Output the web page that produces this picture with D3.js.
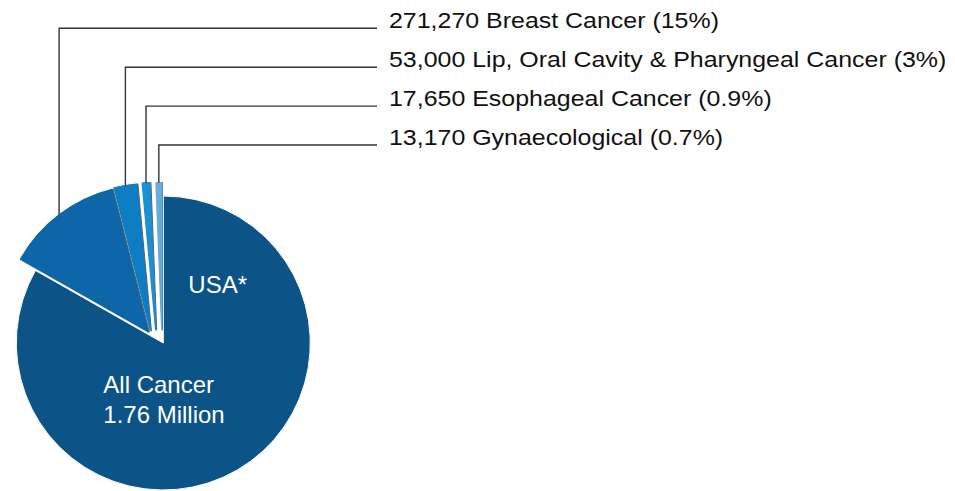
<!DOCTYPE html>
<html>
<head>
<meta charset="utf-8">
<script src="https://cdn.jsdelivr.net/npm/d3@7"></script>
<style>
  html, body { margin: 0; padding: 0; background: #fff; }
  svg { display: block; }
  text { font-family: "Liberation Sans", Arial, Helvetica, sans-serif; }
</style>
</head>
<body>
<svg id="chart" width="955" height="491"></svg>
<script>
// ---- data ----
const categories = ["All Cancer", "Breast Cancer", "Lip, Oral Cavity & Pharyngeal Cancer", "Esophageal Cancer", "Gynaecological"];
const values = [1760000, 271270, 53000, 17650, 13170];
const pctLabels = ["", "15%", "3%", "0.9%", "0.7%"];
const mainLabelLines = ["All Cancer", "1.76 Million"];
const regionLabel = "USA*";

// ---- style / layout ----
const colors = ["#0c5387", "#0b66a7", "#0a7ec3", "#1a90d6", "#62ade2"];
const sliceShift = [[0, 0], [-15, -11.3], [-13, -12.6], [-7.7, -13.4], [-1.6, -13.3]];
const cx = 163.3, cy = 343, R = 147;
const labelX = 389, lineEndX = 377;
const fontSize = 23, textStretch = 1.085;

const svg = d3.select("#chart");
const defs = svg.append("defs");
const shadow = defs.append("filter").attr("id", "edge")
  .attr("x", "-20%").attr("y", "-20%").attr("width", "140%").attr("height", "140%");
shadow.append("feDropShadow")
  .attr("dx", 0.9).attr("dy", 0.3).attr("stdDeviation", 0.35)
  .attr("flood-color", "#2a2a2a").attr("flood-opacity", 0.85);

const g = svg.append("g").attr("transform", `translate(${cx},${cy})`);

const pie = d3.pie().sort(null).startAngle(0).endAngle(2 * Math.PI);
const arcs = pie(values);
const arc = d3.arc().innerRadius(0).outerRadius(R);

const rowY = d3.scaleLinear().domain([0, 3]).range([28.3, 145]);

g.selectAll("path.slice")
  .data(arcs)
  .join("path")
  .attr("class", "slice")
  .attr("transform", (d, i) => `translate(${sliceShift[i][0]},${sliceShift[i][1]})`)
  .attr("d", arc)
  .attr("fill", (d, i) => colors[i])
  .attr("stroke", (d, i) => i === 0 ? "#ffffff" : colors[i])
  .attr("stroke-width", (d, i) => i === 0 ? 1 : 1.2)
  .attr("stroke-linejoin", "round")
  .attr("filter", (d, i) => i === 0 ? null : "url(#edge)");

// leader lines + labels
const fmt = d3.format(",");
arcs.forEach((d, i) => {
  if (i === 0) return;
  const mid = (d.startAngle + d.endAngle) / 2;
  const px = cx + sliceShift[i][0] + R * Math.sin(mid);
  const py = cy + sliceShift[i][1] - R * Math.cos(mid);
  const ly = rowY(i - 1);
  svg.append("path")
    .attr("d", d3.line()([[px, py], [px, ly], [lineEndX, ly]]))
    .attr("fill", "none")
    .attr("stroke", "#333333")
    .attr("stroke-width", 1.4);
  svg.append("text")
    .attr("transform", `translate(${labelX},${ly}) scale(${textStretch},1)`)
    .attr("font-size", fontSize)
    .attr("fill", "#111")
    .text(`${fmt(values[i])} ${categories[i]} (${pctLabels[i]})`);
});

// inner labels
svg.append("text")
  .attr("x", cx + 25).attr("y", cy - 50)
  .attr("font-size", 24).attr("fill", "#fff")
  .text(regionLabel);
svg.append("text")
  .attr("x", cx - 60).attr("y", cy + 50)
  .attr("font-size", 24).attr("fill", "#fff")
  .selectAll("tspan").data(mainLabelLines).join("tspan")
  .attr("x", cx - 60)
  .attr("dy", (d, i) => i === 0 ? 0 : 29.5)
  .text(d => d);
</script>
</body>
</html>
